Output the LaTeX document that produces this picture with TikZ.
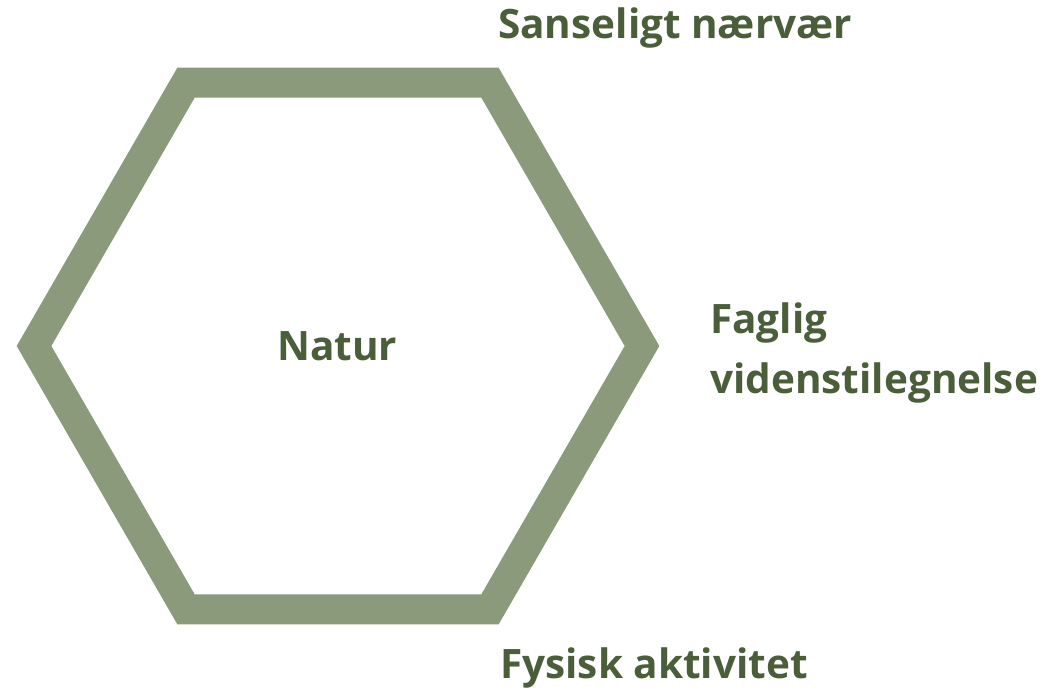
\documentclass[tikz,border=0pt]{standalone}
\usepackage{fontspec}
\setmainfont{Open Sans}
\definecolor{hexgreen}{RGB}{138,154,122}
\definecolor{textgreen}{RGB}{74,94,58}
\begin{document}
\begin{tikzpicture}[x=1pt,y=-1pt,
  lbl/.style={anchor=base west,inner sep=0pt,text=textgreen,font=\fontsize{40.5}{48}\selectfont\bfseries},
  hexline/.style={draw=hexgreen,line width=30pt,line join=miter}]
\useasboundingbox[fill=white] (0,0) rectangle (1055,699);
\coordinate (c) at (338,346);
\coordinate (v1) at (642,346);
\coordinate (v2) at (490,82.7);
\coordinate (v3) at (186,82.7);
\coordinate (v4) at (34,346);
\coordinate (v5) at (186,609.3);
\coordinate (v6) at (490,609.3);
\draw[hexline] (v1) -- (v2) -- (v3) -- (v4) -- (v5) -- (v6) -- cycle;
\node[lbl] (natur) at (277,360) {Natur};
\node[lbl] (sans) at (498,38) {Sanseligt nærvær};
\node[lbl] (fag) at (710,333) {Faglig};
\node[lbl] (viden) at (710,393) {videnstilegnelse};
\node[lbl] (fys) at (500,678) {Fysisk aktivitet};
\end{tikzpicture}
\end{document}
